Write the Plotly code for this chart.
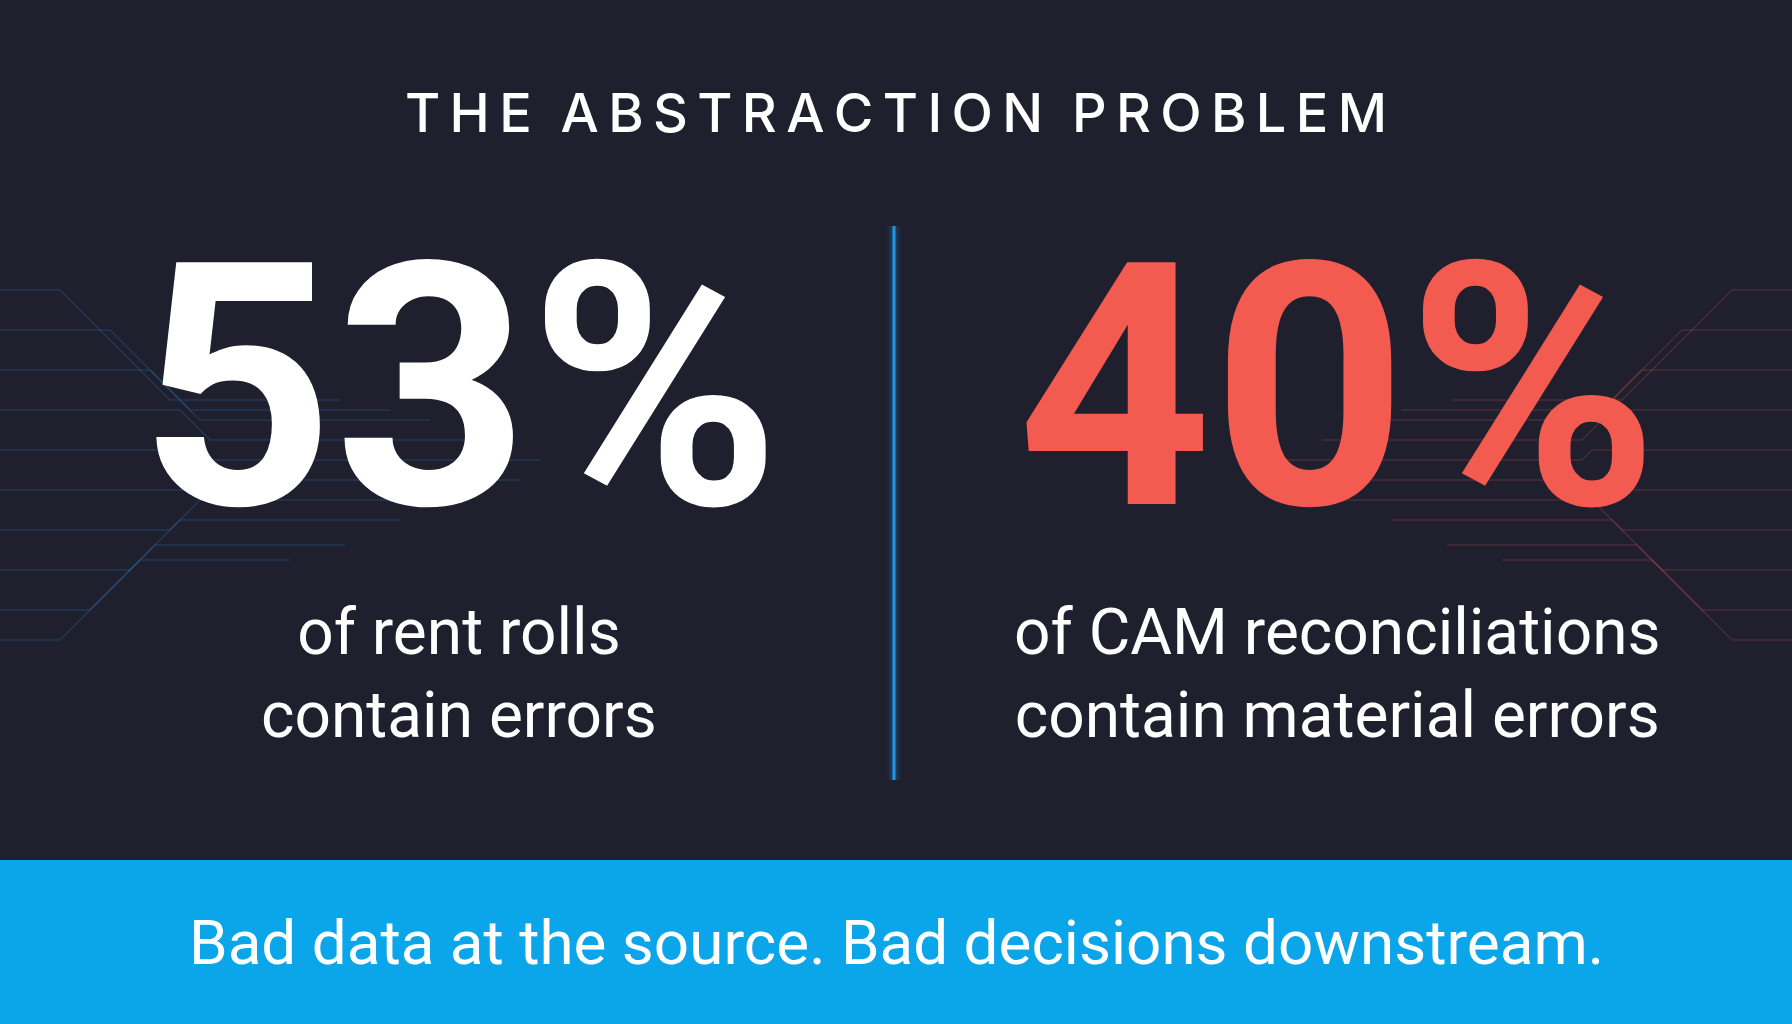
import plotly.graph_objects as go

W, H = 1792, 1024
BG = "#1f1f2e"
BLUE = "#0ba5ea"
RED = "#f45b50"

title = "\u2009".join("THE") + "  " + "\u2009".join("ABSTRACTION") + "  " + "\u2009".join("PROBLEM")
stats = ["53%", "40%"]
stat_colors = ["#ffffff", RED]
captions = ["of rent rolls<br>contain errors", "of CAM reconciliations<br>contain material errors"]
footer = "Bad data at the source. Bad decisions downstream."

# decorative circuit traces (left side; right side mirrored)
circ_y0 = [290, 330, 370, 410, 450, 490, 530, 570, 610, 640]
circ_y1 = [400, 410, 420, 440, 460, 480, 500, 520, 545, 560]
circ_x1 = [60, 110, 150, 180, 200, 210, 170, 130, 90, 60]
circ_len = [170, 200, 230, 260, 330, 300, 260, 220, 190, 150]

fig = go.Figure()
for side, col in [(0, "rgba(40,130,200,0.25)"), (1, "rgba(200,80,80,0.25)")]:
    for y0, y1, x1, ln in zip(circ_y0, circ_y1, circ_x1, circ_len):
        xs = [0, x1, x1 + abs(y1 - y0), x1 + abs(y1 - y0) + ln]
        ys = [y0, y0, y1, y1]
        if side:
            xs = [W - x for x in xs]
        fig.add_trace(go.Scatter(x=xs, y=ys, mode="lines", line=dict(color=col, width=1.5),
                                 hoverinfo="skip", showlegend=False))

# glow divider
for w, a in [(14, 0.08), (8, 0.15), (3, 1.0)]:
    fig.add_shape(type="line", x0=W / 2 - 2, x1=W / 2 - 2, y0=226, y1=780,
                  line=dict(color=f"rgba(30,150,230,{a})", width=w))

fig.add_shape(type="rect", x0=0, x1=W, y0=860, y1=H, fillcolor=BLUE, line_width=0, layer="below")

fig.add_annotation(x=W / 2, y=112, text=title, showarrow=False,
                   font=dict(family="Inter", size=54, color="white", weight=500))
for i, (s, c, cap) in enumerate(zip(stats, stat_colors, captions)):
    cx = [459, 1337][i]
    fig.add_annotation(x=cx, y=388, text=s, showarrow=False,
                       font=dict(family="Roboto", size=340, color=c, weight=700))
    fig.add_annotation(x=cx, y=674, text=cap, showarrow=False,
                       font=dict(family="Roboto", size=64, color="white"))
fig.add_annotation(x=W / 2, y=942, text=footer, showarrow=False,
                   font=dict(family="Roboto", size=62, color="white"))

fig.update_xaxes(range=[0, W], visible=False, fixedrange=True)
fig.update_yaxes(range=[H, 0], visible=False, fixedrange=True)
fig.update_layout(width=W, height=H, margin=dict(l=0, r=0, t=0, b=0),
                  paper_bgcolor=BG, plot_bgcolor=BG)
fig.write_html("out.html", config={"displayModeBar": False},
               post_script="document.body.style.margin='0';document.body.style.background='#1f1f2e';")
